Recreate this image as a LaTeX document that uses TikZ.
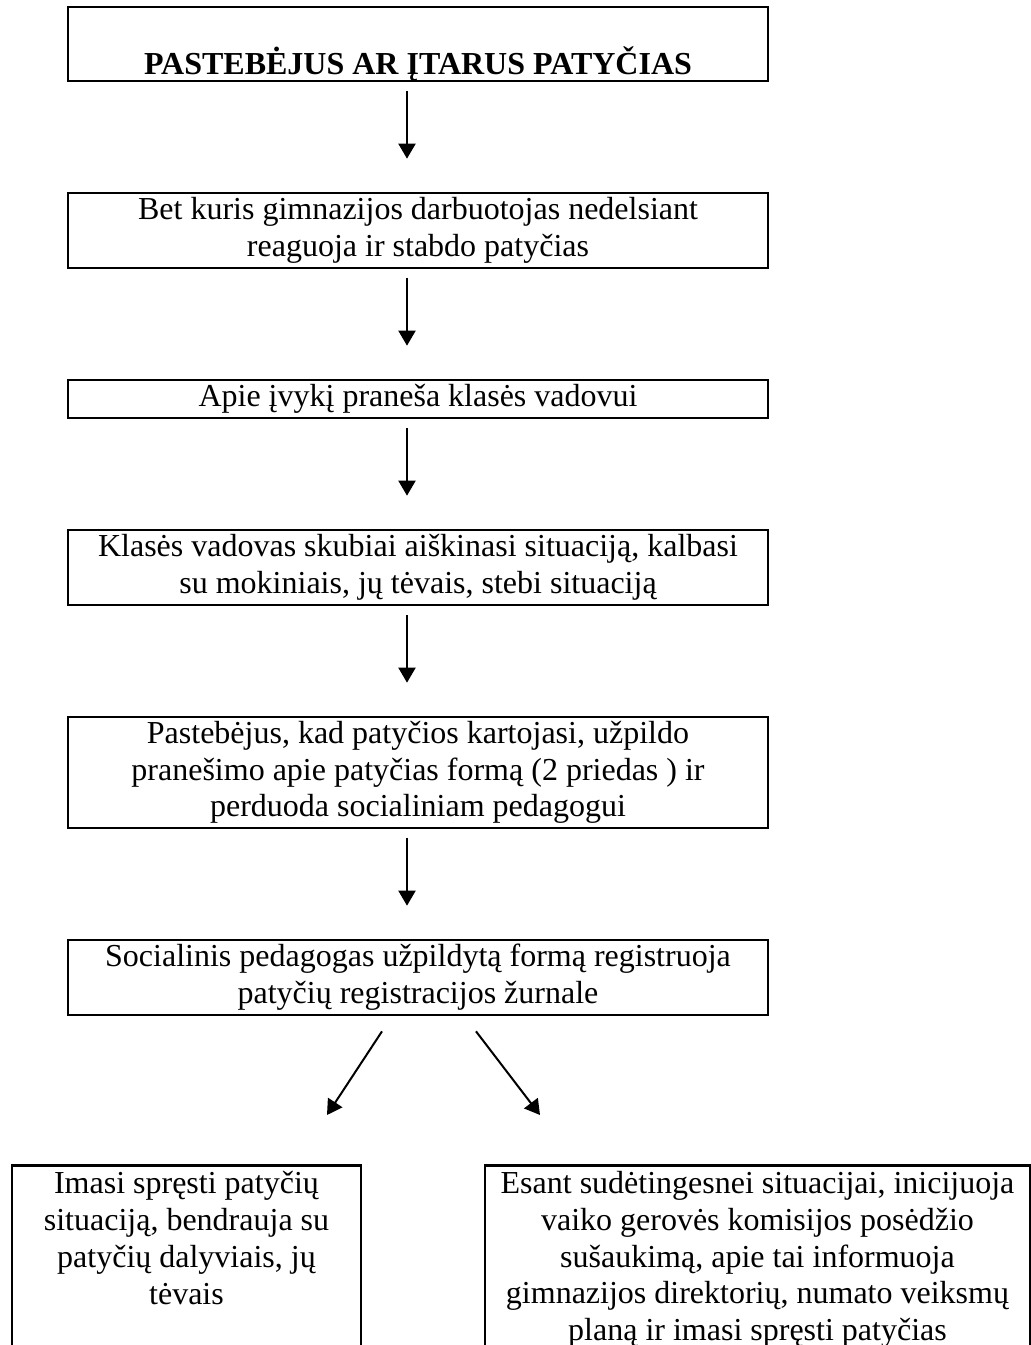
\documentclass[tikz,border=0pt]{standalone}
\usepackage{fontspec}
\setmainfont{Liberation Serif}
\usetikzlibrary{positioning,arrows.meta,calc}

\newcommand{\pxu}{0.375pt}
\tikzset{
   stepbox/.style={draw, rectangle, line width=1pt, align=center,
      minimum width=700*\pxu, inner xsep=0pt, inner ysep=0pt},
   endbox/.style={draw, rectangle, line width=1pt, align=center, anchor=north,
      inner xsep=0pt, inner ysep=6*\pxu, text depth=300*\pxu},
   flow/.style={-{Triangle[length=15*\pxu,width=17*\pxu]}, line width=0.75pt},
   flow gap/.style={flow, shorten <=9*\pxu, shorten >=33*\pxu}
}

\begin{document}
\begin{tikzpicture}[x=\pxu, y=-\pxu, every node/.style={font=\fontsize{12pt}{13.8pt}\selectfont}]
  \clip (0,0) rectangle (1031,1345);

  % Boxes
  \node[stepbox, minimum height=74*\pxu] (start) at (418,44) {\strut\\\textbf{PASTEBĖJUS AR ĮTARUS PATYČIAS}};
  \node[stepbox, minimum height=75*\pxu] (react) at (418,230.5) {Bet kuris gimnazijos darbuotojas nedelsiant\\reaguoja ir stabdo patyčias};
  \node[stepbox, minimum height=38*\pxu] (notify) at (418,399) {Apie įvykį praneša klasės vadovui};
  \node[stepbox, minimum height=75*\pxu] (tutor) at (418,567.5) {Klasės vadovas skubiai aiškinasi situaciją, kalbasi\\su mokiniais, jų tėvais, stebi situaciją};
  \node[stepbox, minimum height=111*\pxu] (report) at (418,772.5) {Pastebėjus, kad patyčios kartojasi, užpildo\\pranešimo apie patyčias formą (2 priedas ) ir\\perduoda socialiniam pedagogui};
  \node[stepbox, minimum height=75*\pxu] (register) at (418,977.5) {Socialinis pedagogas užpildytą formą registruoja\\patyčių registracijos žurnale};
  \node[endbox, minimum width=349*\pxu] (solve) at (186.5,1164) {Imasi spręsti patyčių\\situaciją, bendrauja su\\patyčių dalyviais, jų\\tėvais};
  \node[endbox, minimum width=545*\pxu] (commission) at (757.5,1164) {Esant sudėtingesnei situacijai, inicijuoja\\vaiko gerovės komisijos posėdžio\\sušaukimą, apie tai informuoja\\gimnazijos direktorių, numato veiksmų\\planą ir imasi spręsti patyčias};

  % Arrows
  \draw[flow gap] ([xshift=-11*\pxu]start.south) -- ([xshift=-11*\pxu]react.north);
  \draw[flow gap] ([xshift=-11*\pxu]react.south) -- ([xshift=-11*\pxu]notify.north);
  \draw[flow gap] ([xshift=-11*\pxu]notify.south) -- ([xshift=-11*\pxu]tutor.north);
  \draw[flow gap] ([xshift=-11*\pxu]tutor.south) -- ([xshift=-11*\pxu]report.north);
  \draw[flow gap] ([xshift=-11*\pxu]report.south) -- ([xshift=-11*\pxu]register.north);
  \draw[flow] ($(register.south)+(-36,15)$) -- ($(solve.north)+(140.5,-49)$);
  \draw[flow] ($(register.south)+(58,15)$) -- ($(commission.north)+(-217.5,-49)$);
\end{tikzpicture}
\end{document}
